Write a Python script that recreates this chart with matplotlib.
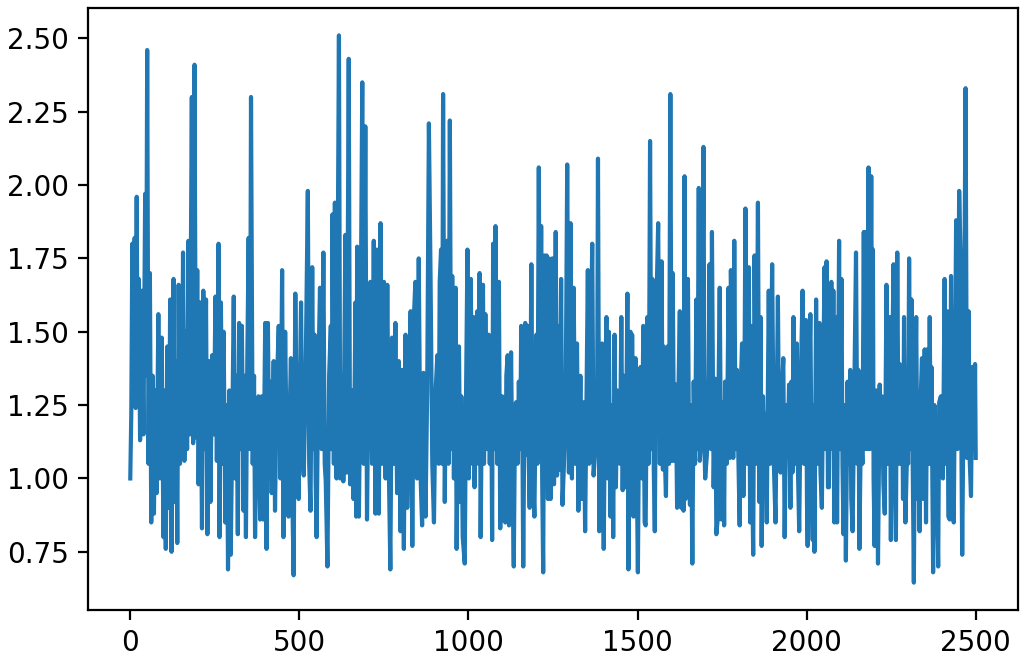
import matplotlib
matplotlib.use("Agg")
import matplotlib.pyplot as plt

# peaks and troughs, in order along x
t = [
    0, 3, 6, 9, 13, 16, 19, 22, 25, 29, 34, 39, 44, 47, 50, 54, 58, 62, 66, 70,
    74, 78, 83, 87, 93, 98, 101, 105, 110, 114, 118, 122, 128, 131, 135, 139, 143, 147, 150, 153,
    156, 160, 165, 168, 172, 176, 182, 186, 190, 194, 198, 202, 207, 212, 216, 220, 224, 228, 233, 237,
    242, 247, 252, 256, 261, 264, 268, 272, 276, 281, 286, 289, 293, 297, 302, 306, 310, 314, 318, 322,
    326, 330, 335, 338, 342, 346, 350, 354, 357, 362, 366, 369, 374, 379, 384, 389, 393, 399, 403, 407,
    411, 414, 418, 424, 428, 433, 439, 444, 449, 453, 458, 463, 468, 472, 475, 479, 483, 488, 493, 498,
    502, 505, 509, 513, 518, 525, 529, 533, 538, 542, 545, 548, 551, 556, 561, 566, 571, 575, 578, 583,
    588, 593, 596, 598, 602, 605, 610, 617, 621, 627, 630, 636, 640, 646, 650, 656, 660, 666, 668, 671,
    676, 680, 686, 690, 695, 700, 705, 710, 715, 720, 725, 730, 735, 740, 745, 750, 755, 760, 765, 769,
    774, 779, 784, 789, 794, 799, 804, 809, 814, 819, 824, 829, 834, 839, 843, 848, 853, 858, 863, 867,
    873, 878, 883, 888, 893, 898, 903, 908, 912, 915, 919, 922, 925, 930, 937, 941, 945, 949, 952, 957,
    962, 965, 970, 972, 976, 979, 983, 989, 993, 997, 1001, 1007, 1011, 1015, 1018, 1022, 1026, 1029, 1033, 1036,
    1040, 1043, 1046, 1050, 1055, 1060, 1063, 1067, 1070, 1073, 1077, 1080, 1085, 1090, 1094, 1100, 1104, 1109, 1112, 1116,
    1120, 1126, 1130, 1134, 1138, 1141, 1145, 1149, 1153, 1156, 1160, 1162, 1166, 1168, 1172, 1175, 1178, 1181, 1186, 1190,
    1195, 1201, 1204, 1208, 1212, 1215, 1218, 1221, 1225, 1228, 1231, 1235, 1238, 1243, 1248, 1253, 1258, 1262, 1267, 1270,
    1274, 1278, 1284, 1288, 1292, 1297, 1302, 1306, 1311, 1316, 1321, 1325, 1331, 1335, 1341, 1345, 1353, 1357, 1362, 1366,
    1370, 1376, 1380, 1383, 1387, 1391, 1395, 1400, 1404, 1408, 1412, 1415, 1420, 1425, 1428, 1432, 1436, 1440, 1445, 1448,
    1452, 1456, 1460, 1465, 1470, 1473, 1479, 1482, 1484, 1488, 1494, 1498, 1501, 1505, 1509, 1513, 1517, 1521, 1524, 1529,
    1533, 1537, 1541, 1544, 1548, 1551, 1556, 1561, 1566, 1571, 1575, 1577, 1581, 1584, 1589, 1593, 1597, 1601, 1604, 1608,
    1613, 1617, 1621, 1625, 1629, 1633, 1636, 1639, 1642, 1645, 1649, 1652, 1655, 1658, 1662, 1666, 1670, 1674, 1677, 1681,
    1684, 1688, 1691, 1695, 1698, 1700, 1705, 1710, 1713, 1717, 1720, 1725, 1730, 1733, 1737, 1740, 1743, 1748, 1753, 1756,
    1759, 1764, 1769, 1773, 1776, 1783, 1786, 1790, 1794, 1798, 1802, 1805, 1809, 1813, 1816, 1819, 1824, 1829, 1833, 1836,
    1839, 1842, 1846, 1851, 1856, 1860, 1864, 1867, 1871, 1875, 1878, 1882, 1888, 1892, 1898, 1903, 1908, 1912, 1915, 1919,
    1923, 1927, 1931, 1935, 1940, 1944, 1948, 1952, 1955, 1958, 1961, 1965, 1971, 1974, 1978, 1983, 1988, 1992, 1998, 2001,
    2003, 2007, 2011, 2015, 2018, 2021, 2023, 2028, 2032, 2038, 2041, 2045, 2049, 2053, 2056, 2059, 2063, 2066, 2070, 2073,
    2076, 2079, 2082, 2086, 2090, 2096, 2099, 2103, 2106, 2109, 2113, 2116, 2121, 2125, 2129, 2132, 2136, 2141, 2146, 2150,
    2153, 2156, 2161, 2165, 2169, 2172, 2176, 2180, 2183, 2187, 2191, 2194, 2196, 2198, 2201, 2206, 2211, 2216, 2219, 2223,
    2227, 2231, 2236, 2240, 2246, 2249, 2253, 2257, 2261, 2264, 2268, 2272, 2275, 2279, 2282, 2285, 2288, 2292, 2298, 2300,
    2303, 2307, 2310, 2313, 2317, 2321, 2324, 2328, 2331, 2334, 2338, 2341, 2345, 2349, 2353, 2357, 2361, 2364, 2367, 2369,
    2372, 2374, 2378, 2381, 2385, 2389, 2392, 2397, 2400, 2403, 2408, 2412, 2416, 2419, 2423, 2427, 2431, 2435, 2439, 2442,
    2446, 2451, 2455, 2458, 2460, 2465, 2470, 2474, 2479, 2482, 2486, 2490, 2494, 2496, 2498, 2500,
]

ratio = [
    1.00, 1.22, 1.80, 1.36, 1.82, 1.24, 1.96, 1.25, 1.68, 1.13, 1.64, 1.15, 1.97, 1.35, 2.46, 1.05, 1.70, 0.85, 1.35, 0.88,
    1.30, 0.95, 1.56, 1.00, 1.48, 0.80, 1.30, 0.76, 1.45, 0.90, 1.61, 0.75, 1.68, 0.92, 1.40, 0.78, 1.66, 1.05, 1.45, 1.10,
    1.77, 1.06, 1.50, 1.10, 1.81, 1.15, 2.30, 1.12, 2.41, 1.14, 1.71, 0.98, 1.60, 0.83, 1.64, 1.10, 1.61, 0.81, 1.40, 0.92,
    1.42, 1.15, 1.62, 1.06, 1.80, 0.80, 1.60, 1.05, 1.50, 0.85, 1.25, 0.69, 1.30, 0.74, 1.20, 1.62, 1.00, 1.35, 0.81, 1.53,
    1.10, 1.52, 0.89, 1.35, 0.80, 1.40, 1.82, 1.10, 2.30, 1.05, 1.35, 0.80, 1.20, 1.28, 0.86, 1.28, 0.86, 1.53, 0.76, 1.53,
    1.00, 1.33, 0.95, 1.40, 0.89, 1.30, 1.52, 1.00, 1.71, 0.80, 1.50, 1.05, 0.87, 1.25, 1.41, 0.95, 0.67, 1.63, 1.05, 0.93,
    1.35, 1.60, 1.08, 1.01, 1.30, 1.98, 1.05, 0.89, 1.72, 1.10, 1.49, 1.00, 0.80, 1.35, 1.65, 1.10, 1.77, 1.05, 0.99, 0.70,
    1.35, 1.52, 1.10, 1.90, 1.05, 1.94, 1.00, 2.51, 1.00, 1.35, 0.99, 1.83, 1.02, 2.43, 0.98, 1.30, 0.93, 1.60, 0.87, 1.79,
    0.87, 1.30, 2.35, 1.05, 2.20, 0.86, 1.40, 1.67, 1.05, 1.81, 0.88, 1.78, 0.88, 1.87, 1.05, 1.67, 1.00, 1.66, 1.00, 0.69,
    1.48, 1.05, 1.53, 0.95, 1.40, 0.82, 1.37, 0.76, 1.49, 0.90, 1.20, 1.57, 0.77, 1.56, 1.67, 1.00, 1.75, 1.02, 0.84, 1.36,
    0.87, 1.30, 2.21, 1.68, 1.05, 0.85, 1.30, 1.42, 1.05, 1.67, 1.78, 1.05, 2.31, 0.92, 1.81, 1.05, 2.22, 1.10, 1.69, 1.00,
    1.65, 0.76, 1.30, 1.45, 0.92, 1.28, 0.80, 0.71, 1.30, 1.78, 1.00, 1.68, 1.05, 1.55, 0.97, 1.30, 1.57, 1.05, 1.70, 0.80,
    1.30, 1.66, 1.05, 1.56, 1.10, 1.49, 1.05, 1.36, 0.79, 1.80, 1.10, 1.86, 1.05, 1.67, 0.83, 1.28, 0.86, 0.85, 1.35, 1.42,
    0.84, 1.43, 1.00, 0.70, 1.25, 1.26, 1.05, 1.33, 1.10, 1.52, 1.05, 0.70, 1.30, 1.53, 1.08, 1.52, 1.08, 0.90, 1.73, 1.05,
    0.87, 1.49, 1.05, 2.06, 1.10, 1.86, 1.00, 0.68, 1.76, 1.10, 1.76, 0.93, 1.75, 0.93, 1.75, 0.98, 1.84, 1.01, 1.52, 1.03,
    1.68, 0.91, 1.10, 1.35, 2.07, 1.02, 1.87, 1.00, 1.65, 1.05, 1.46, 0.89, 1.35, 0.93, 1.26, 0.82, 1.71, 1.05, 1.45, 1.80,
    1.01, 1.11, 1.10, 2.09, 0.82, 1.30, 1.46, 0.76, 1.30, 1.55, 1.00, 1.50, 0.87, 1.25, 0.80, 1.49, 0.97, 1.30, 1.12, 1.05,
    1.55, 0.96, 1.35, 0.97, 1.63, 0.69, 1.50, 1.05, 1.49, 0.87, 1.41, 1.00, 0.68, 1.30, 1.38, 1.00, 1.52, 0.85, 0.84, 1.55,
    1.05, 2.15, 1.10, 1.68, 1.03, 0.82, 1.60, 1.87, 1.05, 1.74, 1.03, 1.45, 1.06, 0.94, 1.45, 1.05, 2.31, 1.06, 1.70, 1.06,
    1.32, 0.90, 1.30, 1.57, 0.90, 1.48, 0.89, 2.03, 0.93, 1.35, 1.68, 1.10, 0.91, 1.25, 0.71, 1.33, 1.05, 1.61, 1.10, 1.99,
    1.06, 1.13, 1.35, 2.13, 1.10, 1.00, 1.08, 1.35, 1.73, 1.10, 1.84, 0.97, 1.34, 0.81, 0.86, 1.35, 1.65, 0.86, 1.26, 0.84,
    1.33, 1.05, 1.65, 1.07, 1.71, 1.07, 1.81, 1.10, 1.37, 1.08, 0.84, 1.30, 1.46, 0.94, 1.30, 1.92, 1.05, 1.72, 0.85, 1.52,
    1.00, 0.74, 1.76, 1.05, 1.94, 0.92, 1.55, 0.77, 1.28, 1.05, 1.22, 0.85, 1.64, 1.05, 1.73, 1.05, 0.85, 1.30, 1.62, 1.05,
    1.02, 1.30, 1.41, 0.80, 1.25, 1.10, 1.32, 0.90, 1.33, 1.02, 1.55, 1.05, 1.46, 1.05, 0.82, 1.35, 1.64, 1.05, 1.54, 0.92,
    0.77, 1.30, 1.56, 0.95, 0.79, 1.25, 0.75, 1.61, 1.05, 1.53, 1.02, 0.90, 1.35, 1.72, 1.10, 1.74, 0.97, 0.97, 1.35, 1.67,
    1.10, 1.64, 0.85, 1.55, 0.85, 1.81, 1.10, 1.68, 1.05, 0.81, 1.25, 0.72, 1.33, 1.05, 1.37, 0.93, 0.82, 1.30, 1.77, 1.05,
    1.37, 0.76, 1.23, 1.05, 1.84, 1.10, 1.84, 1.10, 2.06, 1.10, 2.03, 1.25, 1.78, 1.00, 0.77, 1.30, 0.71, 1.32, 1.05, 1.28,
    0.98, 0.88, 1.66, 1.05, 1.55, 0.79, 1.40, 1.73, 1.00, 0.79, 1.77, 1.05, 1.39, 1.05, 1.37, 0.93, 1.55, 0.85, 1.14, 1.05,
    1.75, 1.10, 1.61, 1.13, 0.645, 1.30, 1.55, 0.93, 1.20, 0.82, 1.30, 1.41, 0.93, 1.44, 0.85, 1.44, 1.05, 1.55, 1.05, 1.38,
    0.95, 0.68, 1.25, 1.17, 0.95, 0.70, 1.26, 1.28, 1.05, 1.00, 1.68, 1.05, 1.57, 0.87, 0.86, 1.69, 1.05, 0.85, 1.40, 1.88,
    1.10, 1.98, 1.76, 1.05, 0.74, 1.40, 2.33, 1.07, 1.57, 1.07, 0.94, 1.38, 1.38, 1.10, 1.39, 1.07,
]

fig, ax = plt.subplots(figsize=(1023 / 200, 657 / 200), dpi=200)
ax.plot(t, ratio, color="#1f77b4", linewidth=1.5)
ax.set_xticks([0, 500, 1000, 1500, 2000, 2500])
ax.set_yticks([0.75, 1.00, 1.25, 1.50, 1.75, 2.00, 2.25, 2.50])
fig.subplots_adjust(left=88 / 1023, right=1018 / 1023, top=1 - 8 / 657, bottom=1 - 610 / 657)
fig.savefig("out.png", dpi=200)
